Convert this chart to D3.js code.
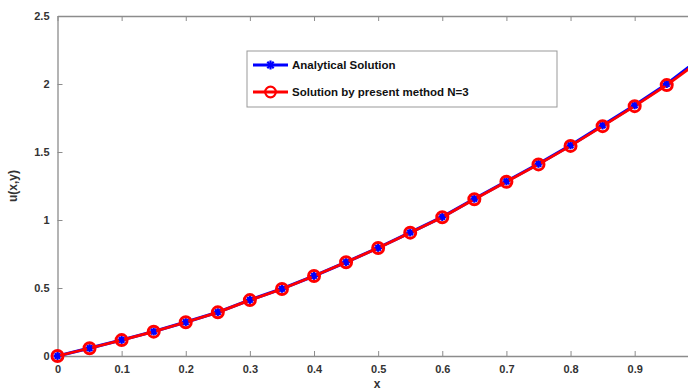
<!DOCTYPE html>
<html><head><meta charset="utf-8">
<script src="https://cdn.jsdelivr.net/npm/d3@7"></script>
<style>body{margin:0;background:#fff}svg{display:block}text{font-family:"Liberation Sans",Arial,sans-serif;font-weight:bold}</style>
</head><body><div id="chart"></div>
<script>
const xValues = [0,0.05,0.1,0.15,0.2,0.25,0.3,0.35,0.4,0.45,0.5,0.55,0.6,0.65,0.7,0.75,0.8,0.85,0.9,0.95,1.0];
const analytical = [0,0.058,0.118,0.18,0.249,0.322,0.412,0.494,0.589,0.69,0.795,0.908,1.022,1.156,1.284,1.413,1.549,1.695,1.843,2.0,2.18];
const presentMethod = [0,0.057,0.117,0.179,0.248,0.321,0.411,0.493,0.588,0.689,0.794,0.907,1.02,1.153,1.281,1.409,1.545,1.69,1.837,1.992,2.165];
const xTicks = [0,0.1,0.2,0.3,0.4,0.5,0.6,0.7,0.8,0.9];
const yTicks = [0,0.5,1,1.5,2,2.5];
const seriesNames = ["Analytical Solution","Solution by present method N=3"];

const W=688,H=390;
const L=57.5,R=698.8,T=16,B=356;
const svg=d3.select("#chart").append("svg").attr("width",W).attr("height",H);
const x=d3.scaleLinear().domain([0,1]).range([L,R]);
const y=d3.scaleLinear().domain([0,2.5]).range([B,T]);
const axisColor="#8c8c8c", textColor="#333";

const gx=svg.append("g").attr("transform",`translate(0,${B})`)
  .call(d3.axisBottom(x).tickValues(xTicks).tickSizeInner(-5).tickSizeOuter(0).tickPadding(9).tickFormat(d=>d===0?"0":d3.format(".1f")(d)));
const gxt=svg.append("g").attr("transform",`translate(0,${T})`)
  .call(d3.axisTop(x).tickValues(xTicks).tickSizeInner(-5).tickSizeOuter(0).tickFormat(""));
const gy=svg.append("g").attr("transform",`translate(${L},0)`)
  .call(d3.axisLeft(y).tickValues(yTicks).tickSizeInner(-5).tickSizeOuter(0).tickPadding(8).tickFormat(d=>String(d)));
const gyr=svg.append("g").attr("transform",`translate(${R},0)`)
  .call(d3.axisRight(y).tickValues(yTicks).tickSizeInner(-5).tickSizeOuter(0).tickFormat(""));
[gx,gxt,gy,gyr].forEach(g=>{
  g.select(".domain").attr("stroke",axisColor).attr("stroke-width",1.3);
  g.selectAll(".tick line").attr("stroke",axisColor);
  g.selectAll(".tick text").attr("fill",textColor).style("font-size","11px").style("font-weight","bold").style("font-family","Liberation Sans, Arial, sans-serif");
});

svg.append("text").attr("x",377).attr("y",387.5).attr("text-anchor","middle").attr("fill",textColor).style("font-size","12px").text("x");
svg.append("text").attr("transform",`translate(17,186) rotate(-90)`).attr("text-anchor","middle").attr("fill",textColor).style("font-size","12px").text("u(x,y)");

const line=d3.line().x(d=>x(d[0])).y(d=>y(d[1]));
const dA=xValues.map((v,i)=>[v,analytical[i]]);
const dP=xValues.map((v,i)=>[v,presentMethod[i]]);
const plot=svg.append("g");

function asterisk(g,cx,cy,s,color){
  const p=g.append("g").attr("transform",`translate(${cx},${cy})`);
  [0,45,90,135].forEach(a=>{
    const r=a*Math.PI/180;
    p.append("line").attr("x1",-s*Math.cos(r)).attr("y1",-s*Math.sin(r)).attr("x2",s*Math.cos(r)).attr("y2",s*Math.sin(r))
      .attr("stroke",color).attr("stroke-width",2.2);
  });
}

plot.append("path").datum(dA).attr("d",line).attr("fill","none").attr("stroke","#0000ff").attr("stroke-width",3.2);
dA.forEach(d=>asterisk(plot,x(d[0]),y(d[1]),4,"#0000ff"));
plot.append("path").datum(dP).attr("d",line).attr("fill","none").attr("stroke","#ff0000").attr("stroke-width",2.8);
plot.selectAll("circle.pm").data(dP).join("circle").attr("class","pm")
  .attr("cx",d=>x(d[0])).attr("cy",d=>y(d[1])).attr("r",5.5)
  .attr("fill","none").attr("stroke","#ff0000").attr("stroke-width",3);
dA.forEach(d=>asterisk(plot,x(d[0]),y(d[1]),2.6,"#0000ff"));

const lg=svg.append("g");
lg.append("rect").attr("x",247).attr("y",51).attr("width",310).attr("height",56)
  .attr("fill","#fff").attr("stroke","#999").attr("stroke-width",1);
const ly=[65,92];
lg.append("line").attr("x1",253).attr("x2",288).attr("y1",ly[0]).attr("y2",ly[0]).attr("stroke","#0000ff").attr("stroke-width",3);
asterisk(lg,270.5,ly[0],4.5,"#0000ff");
lg.append("line").attr("x1",253).attr("x2",288).attr("y1",ly[1]).attr("y2",ly[1]).attr("stroke","#ff0000").attr("stroke-width",2.8);
lg.append("circle").attr("cx",270.5).attr("cy",ly[1]).attr("r",5.3).attr("fill","none").attr("stroke","#ff0000").attr("stroke-width",2.2);
seriesNames.forEach((n,i)=>{
  lg.append("text").attr("x",292).attr("y",ly[i]+4).attr("fill","#111").style("font-size","11.5px").text(n);
});
</script></body></html>
